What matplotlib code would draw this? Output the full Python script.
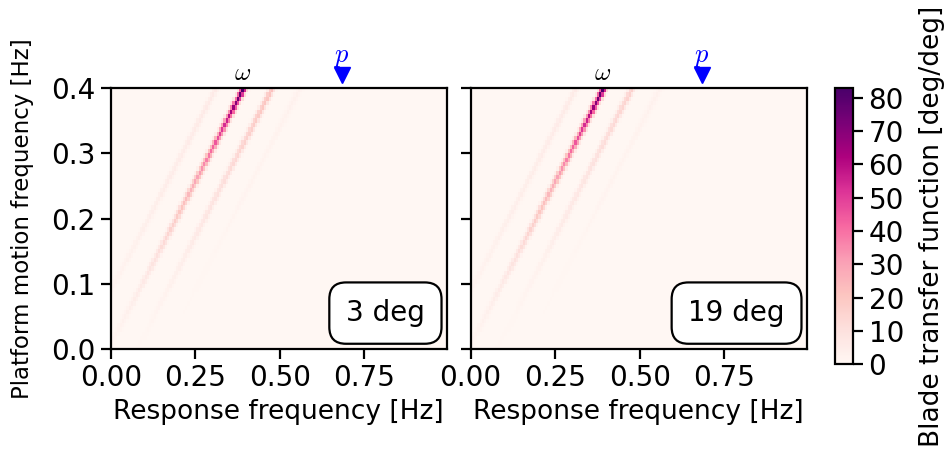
import numpy as np
import matplotlib
matplotlib.use("Agg")
import matplotlib.pyplot as plt

# ---------------- data ----------------
df = 1.0 / 150.0
n_resp = 149          # response-frequency bins (0 ... ~0.99 Hz)
n_plat = 60           # platform-frequency bins (0 ... 0.4 Hz)

# platform frequency levels at which the ridge amplitudes were read
plat_levels = [0.00, 0.05, 0.10, 0.15, 0.20, 0.25, 0.30, 0.35, 0.40]

# ridge offsets (response freq = platform freq + offset) [Hz]
ridge_offsets = [-0.006, 0.078, -0.088, 0.16]

# amplitudes along each ridge [deg/deg], panel "3 deg"
amp_3deg_main = [1, 3, 6, 11, 18, 27, 40, 56, 83]
amp_3deg_plus = [0.5, 1.5, 3, 5, 8, 11, 15, 19, 23]
amp_3deg_minus = [0.3, 1, 2, 3, 4, 5, 5, 6, 6]
amp_3deg_plus2 = [0, 0.3, 0.6, 1, 1.5, 2, 2, 2.5, 3]

# amplitudes along each ridge [deg/deg], panel "19 deg"
amp_19deg_main = [1, 3, 6, 11, 18, 27, 40, 56, 83]
amp_19deg_plus = [0.4, 1, 2, 3.5, 6, 8, 11, 14, 17]
amp_19deg_minus = [0.3, 1, 2, 3, 4, 4.5, 5, 5.5, 6]
amp_19deg_plus2 = [0, 0.3, 0.6, 1, 1.5, 2, 2, 2.5, 3]

panel_labels = ["3 deg", "19 deg"]
omega_freq = 0.39
p_freq = 0.683
vmax = 83
yticks = [0.0, 0.1, 0.2, 0.3, 0.4]
xticks = [0.0, 0.25, 0.5, 0.75]


def build_grid(amps):
    x_c = (np.arange(n_resp) + 0.5) * df
    y_c = (np.arange(n_plat) + 0.5) * df
    Z = np.zeros((n_plat, n_resp))
    sig = 1.0 * df
    for off, amp in zip(ridge_offsets, amps):
        a = np.interp(y_c, plat_levels, amp)
        for i, yy in enumerate(y_c):
            Z[i] += a[i] * np.exp(-0.5 * ((x_c - (yy + off)) / sig) ** 2)
    return Z


grids = [
    build_grid([amp_3deg_main, amp_3deg_plus, amp_3deg_minus, amp_3deg_plus2]),
    build_grid([amp_19deg_main, amp_19deg_plus, amp_19deg_minus, amp_19deg_plus2]),
]

# ---------------- figure ----------------
plt.rcParams['font.family'] = ['DejaVu Sans']
plt.rcParams['mathtext.fontset'] = 'cm'
fig = plt.figure(figsize=(9.47, 4.5), dpi=100)
ax1 = fig.add_axes([0.1169, 0.2244, 0.3548, 0.58])
ax2 = fig.add_axes([0.4970, 0.2244, 0.3548, 0.58], sharey=ax1)
cax = fig.add_axes([0.8817, 0.1911, 0.0194, 0.6133])

xe = np.arange(n_resp + 1) * df
ye = np.arange(n_plat + 1) * df

fs_tick = 20
fs_lab = 19
for ax, Z, lab in zip([ax1, ax2], grids, panel_labels):
    mesh = ax.pcolormesh(xe, ye, Z, cmap='RdPu', vmin=0, vmax=vmax,
                         shading='flat', rasterized=True)
    ax.set_xlim(0, n_resp * df)
    ax.set_ylim(0, n_plat * df)
    ax.set_xticks(xticks)
    ax.set_yticks(yticks)
    ax.tick_params(labelsize=fs_tick, length=7, width=1.6, pad=4)
    for s in ax.spines.values():
        s.set_linewidth(1.6)
    ax.set_xlabel("Response frequency [Hz]", fontsize=fs_lab, labelpad=5)
    ax.text(omega_freq, 0.404, r"$\omega$", ha='center', va='bottom',
            fontsize=18, color='black')
    ax.plot([p_freq], [0.42], marker='v', color='blue', markersize=12,
            linestyle='none', clip_on=False)
    ax.text(p_freq, 0.429, r"$p$", ha='center', va='bottom',
            fontsize=19, color='blue')
    ax.text(0.935, 0.084, lab, transform=ax.transAxes, ha='right', va='bottom',
            fontsize=fs_tick,
            bbox=dict(boxstyle='round,pad=0.6', fc='white', ec='black', lw=1.6))

ax1.set_ylabel("Platform motion frequency [Hz]", fontsize=16.5, labelpad=12)
ax1.set_yticklabels(["0.0", "0.1", "0.2", "0.3", "0.4"])
plt.setp(ax2.get_yticklabels(), visible=False)

cb = fig.colorbar(mesh, cax=cax)
cb.set_ticks([0, 10, 20, 30, 40, 50, 60, 70, 80])
cb.ax.tick_params(labelsize=fs_tick, length=7, width=1.6, pad=4)
cb.outline.set_linewidth(1.6)
cb.set_label("Blade transfer function [deg/deg]", fontsize=fs_lab, labelpad=11)

fig.savefig("out.png", dpi=100)
